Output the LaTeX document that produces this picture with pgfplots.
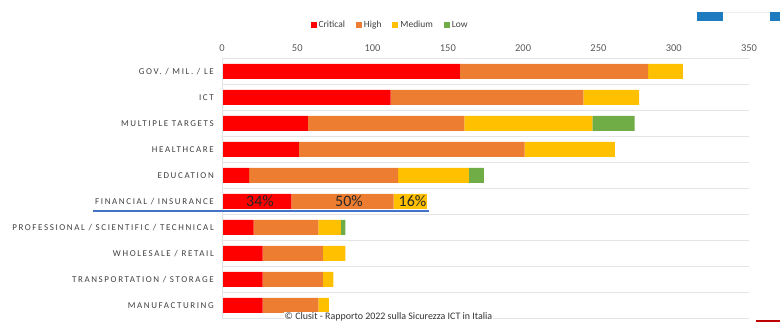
\documentclass[border=0pt]{standalone}
\usepackage{pgfplots}
\pgfplotsset{compat=1.18}
\usepackage{fontspec}
\setmainfont{Carlito}
\newfontfamily\catfont[LetterSpace=18]{Carlito}
\definecolor{cCrit}{HTML}{FF0000}
\definecolor{cHigh}{HTML}{ED7D31}
\definecolor{cMed}{HTML}{FFC000}
\definecolor{cLow}{HTML}{70AD47}
\definecolor{gridc}{HTML}{E4E4E4}
\definecolor{txt}{HTML}{595959}
\definecolor{cattxt}{HTML}{404040}
\definecolor{blueline}{HTML}{4472C4}
\definecolor{deco}{HTML}{1F7BBF}
\begin{document}
\begin{tikzpicture}
\path[use as bounding box] (0,0) rectangle (780bp,322bp);
\begin{axis}[
  at={(222bp,3.7bp)}, anchor=south west,
  scale only axis, width=527bp, height=260bp,
  xmin=0, xmax=350, ymin=-0.5, ymax=9.5,
  xbar stacked, bar width=15bp,
  xtick={0,50,...,350}, xticklabel pos=upper,
  ytick={0,...,9},
  yticklabels={MANUFACTURING, TRANSPORTATION / STORAGE, WHOLESALE / RETAIL, PROFESSIONAL / SCIENTIFIC / TECHNICAL, FINANCIAL / INSURANCE, EDUCATION, HEALTHCARE, MULTIPLE TARGETS, ICT, GOV. / MIL. / LE},
  major tick length=0pt,
  axis line style={draw=none},
  /pgf/number format/assume math mode=true,
  xticklabel style={font=\fontsize{10.5}{12}\selectfont, text=txt, yshift=3.5bp},
  yticklabel style={font=\catfont\fontsize{9}{10}\selectfont, text=cattxt, inner sep=0pt, anchor=east, xshift=-8bp},
  extra y ticks={-0.5,0.5,...,9.5}, extra y tick labels={},
  extra y tick style={grid=major, major grid style={gridc, line width=1.2bp}},
  legend style={at={(0.319,1.128)}, anchor=center, legend columns=4, draw=none, fill=none,
    font=\fontsize{9.5}{11}\selectfont, text=cattxt,
    /tikz/every even column/.append style={column sep=9bp},
    inner sep=0pt},
  legend image code/.code={\fill[#1] (0bp,-3bp) rectangle (6bp,3bp);},
]
\draw[gridc, line width=1bp] (axis cs:0,-0.5) -- (axis cs:0,9.5);
\addplot[fill=cCrit, draw=none] coordinates {(27,0) (27,1) (27,2) (21,3) (46,4) (18,5) (51,6) (57,7) (112,8) (158,9)};
\addplot[fill=cHigh, draw=none] coordinates {(37,0) (40,1) (40,2) (43,3) (68,4) (99,5) (150,6) (104,7) (128,8) (125,9)};
\addplot[fill=cMed, draw=none] coordinates {(7,0) (7,1) (15,2) (15,3) (22,4) (47,5) (60,6) (85,7) (37,8) (23,9)};
\addplot[fill=cLow, draw=none] coordinates {(0,0) (0,1) (0,2) (3,3) (0,4) (10,5) (0,6) (28,7) (0,8) (0,9)};
\legend{Critical, High, Medium, Low}
\end{axis}
\node[font=\fontsize{16}{18}\selectfont, text=black!85] at (260bp,120.7bp) {34\%};
\node[font=\fontsize{16}{18}\selectfont, text=black!85] at (349bp,120.7bp) {50\%};
\node[font=\fontsize{16}{18}\selectfont, text=black!85] at (412.5bp,120.7bp) {16\%};
\draw[blueline, line width=2.5bp] (93bp,111bp) -- (429bp,111bp);
\node[fill=white, inner sep=1bp, font=\fontsize{10}{12}\selectfont, text=black!80] at (388.5bp,5bp) {© Clusit - Rapporto 2022 sulla Sicurezza ICT in Italia};
\fill[deco] (697bp,300.7bp) rectangle (722.7bp,309.7bp);
\fill[deco] (770bp,300.7bp) rectangle (780bp,309.7bp);
\draw[gray!15, line width=0.5bp] (722.7bp,309.7bp) -- (770bp,309.7bp);
\fill[red!75!black] (755.7bp,0bp) rectangle (780bp,2bp);
\end{tikzpicture}
\end{document}
